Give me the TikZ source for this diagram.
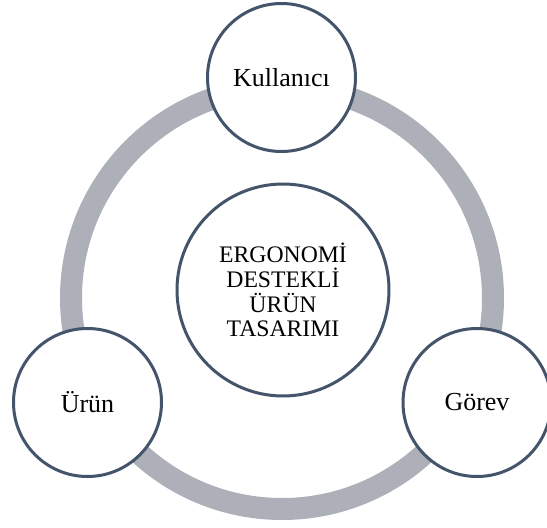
\documentclass[tikz,border=0pt]{standalone}
\usepackage{fontspec}
\setmainfont{Liberation Serif}
\definecolor{ringgray}{HTML}{ADB0B8}
\definecolor{edgeblue}{HTML}{44546A}
\begin{document}
\begin{tikzpicture}[x=1pt,y=-1pt,
  outer/.style={circle, draw=edgeblue, line width=3pt, fill=white, minimum size=148pt, inner sep=0pt, font=\fontsize{26}{28}\selectfont},
  core/.style={circle, draw=edgeblue, line width=3pt, fill=white, minimum size=212pt, inner sep=0pt, align=center, font=\fontsize{23.7}{24.8}\selectfont}]
\useasboundingbox (0,0) rectangle (547,528);
\coordinate (ringc) at (282,298);
\draw[ringgray, line width=22pt] (ringc) circle[radius=211];
\node[core] (center) at (283,290) {ERGONOMİ\\DESTEKLİ\\ÜRÜN\\TASARIMI};
\node[outer] (kul) at (281.5,77.5) {Kullanıcı};
\node[outer] (urun) at (87.5,402.5) {Ürün};
\node[outer] (gorev) at (477,402.5) {Görev};
\end{tikzpicture}
\end{document}
